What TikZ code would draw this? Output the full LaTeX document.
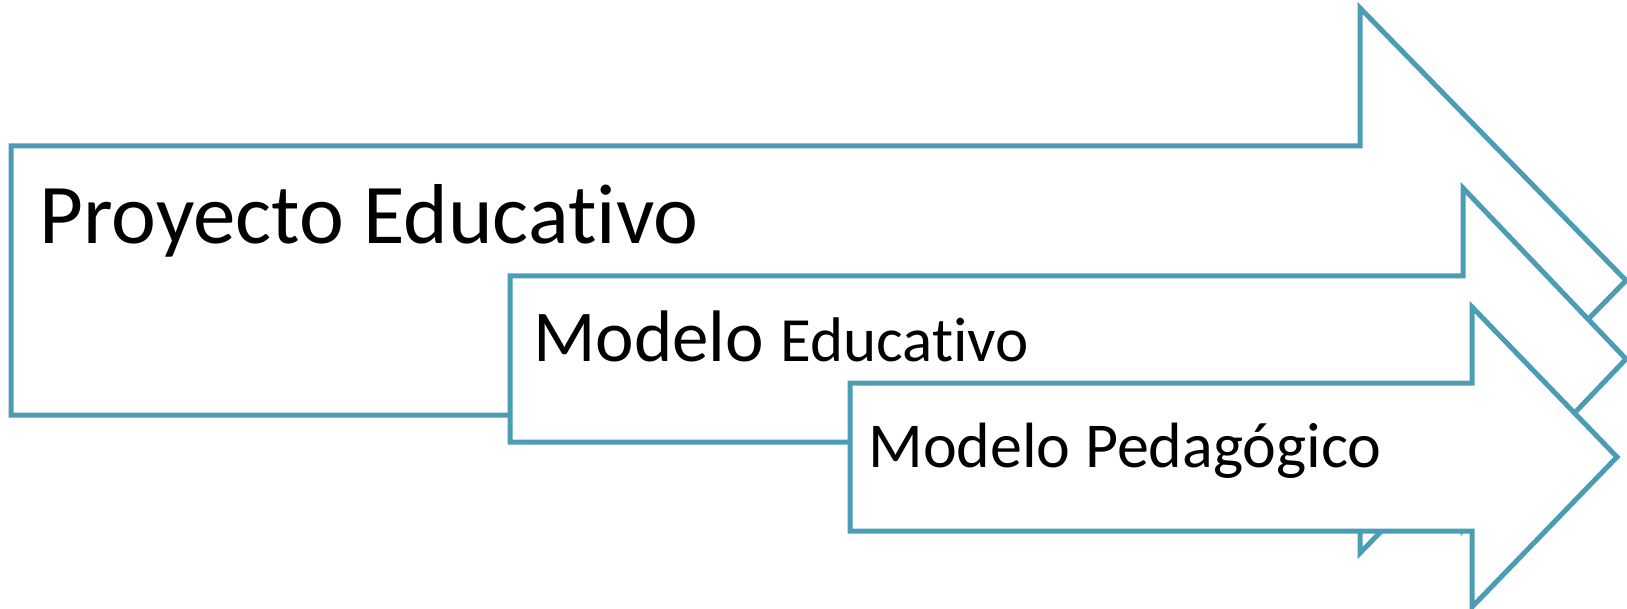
\documentclass[tikz,border=0pt]{standalone}
\usepackage{fontspec}
\setmainfont{Carlito}[Ligatures=NoCommon]
\usetikzlibrary{calc}
\definecolor{ArrowBlue}{RGB}{74,157,180}
% name/left/top/bottom/head x/head top/tip x
\def\Arrows{one/11/146/415/1360/8/1626, two/510/276/442/1463/188/1626, three/850/383/531/1472/307/1617}
\tikzset{Arrow/.style={
		draw=ArrowBlue,
		fill=white,
		line width=2.5pt,
		line join=miter,
	},
	Label/.style={
		inner sep=0pt,
		anchor=base west,
		text=black,
	}
}

\begin{document}
\begin{tikzpicture}[x=0.5pt,y=-0.5pt]
	\useasboundingbox (0,0) rectangle (1627,609);
	\foreach \name/\left/\top/\bottom/\headX/\headTop/\tipX in \Arrows {%
		\pgfmathsetmacro{\mid}{(\top+\bottom)/2}
		\pgfmathsetmacro{\headBottom}{2*\mid-\headTop}
		\draw [Arrow] (\left,\top) -- (\headX,\top) -- (\headX,\headTop)
			-- (\tipX,\mid) -- (\headX,\headBottom) -- (\headX,\bottom)
			-- (\left,\bottom) -- cycle;
	}
	\node [Label] (proyecto) at (39,243) {\fontsize{42.5}{48}\selectfont Proyecto Educativo};
	\node [Label] (modeloEdu) at (533,361) {\fontsize{36.5}{42}\selectfont Modelo {\fontsize{31.5}{36}\selectfont Educativo}};
	\node [Label] (modeloPed) at (868,467) {\fontsize{32}{36}\selectfont Modelo Pedagógico};
\end{tikzpicture}
\end{document}
